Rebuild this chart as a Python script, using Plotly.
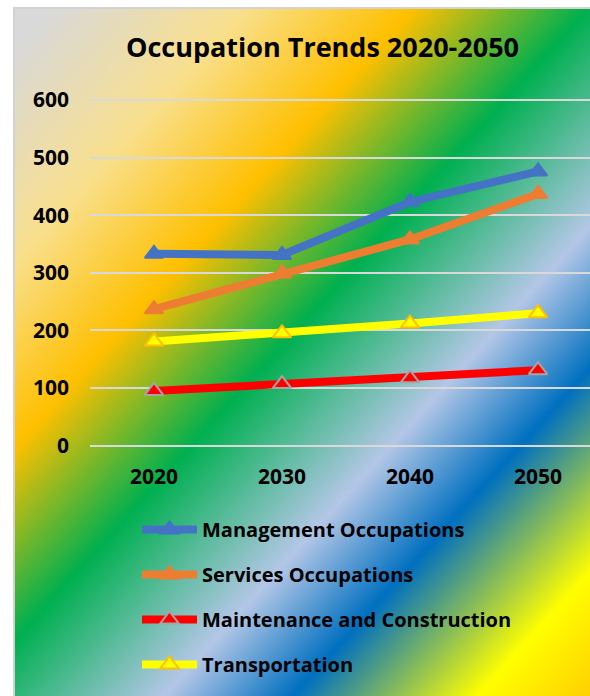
import base64
import struct
import zlib

import numpy as np
import plotly.graph_objects as go

# ---- data -------------------------------------------------------------
years = ["2020", "2030", "2040", "2050"]
management = [333, 331, 423, 476]
services = [237, 299, 358, 437]
maintenance = [95, 107, 117, 131]
transportation = [181, 195, 212, 230]

series_names = [
    "Management Occupations",
    "Services Occupations",
    "Maintenance and Construction",
    "Transportation",
]
y_ticks = [0, 100, 200, 300, 400, 500, 600]

# ---- page geometry (pixels) -------------------------------------------
W, H = 590, 696
PL, PR, PT, PB = 90, 590, 88, 457          # plot area edges
FX, FY = 13, 7                             # top-left corner of the chart frame


def to_paper_x(px):
    return (px - PL) / (PR - PL)


def to_paper_y(py):
    return (PB - py) / (PB - PT)


# ---- multicolour diagonal gradient fill for the chart frame ------------
def gradient_png(w, h, x0, y0):
    stops_t = np.array([0, 60, 250, 421, 595, 795, 924, 1108, 1240], float)
    stops_c = np.array([
        (217, 217, 217),
        (217, 217, 217),
        (249, 224, 142),
        (255, 192, 0),
        (0, 176, 80),
        (180, 199, 231),
        (0, 112, 192),
        (255, 255, 0),
        (255, 200, 0),
    ], float)
    xs = np.arange(w) + x0
    ys = np.arange(h) + y0
    t = xs[None, :] + 0.908 * ys[:, None]
    img = np.zeros((h, w, 3), float)
    for k in range(3):
        img[..., k] = np.interp(t, stops_t, stops_c[:, k])
    img = img.astype(np.uint8)
    # thin light-grey frame border
    img[0:2, :, :] = 210
    img[:, 0:2, :] = 210

    raw = b"".join(b"\x00" + img[r].tobytes() for r in range(h))

    def chunk(tag, data):
        c = struct.pack(">I", len(data)) + tag + data
        return c + struct.pack(">I", zlib.crc32(tag + data) & 0xFFFFFFFF)

    png = b"\x89PNG\r\n\x1a\n"
    png += chunk(b"IHDR", struct.pack(">IIBBBBB", w, h, 8, 2, 0, 0, 0))
    png += chunk(b"IDAT", zlib.compress(raw, 9))
    png += chunk(b"IEND", b"")
    return "data:image/png;base64," + base64.b64encode(png).decode()


bg_w, bg_h = W - FX, H - FY
bg_src = gradient_png(bg_w, bg_h, FX, FY)

# ---- traces -------------------------------------------------------------
FONT = "Open Sans"
styles = [
    dict(color="#4472C4", mfill="#4472C4", mline="#4472C4"),
    dict(color="#ED7D31", mfill="#ED7D31", mline="#ED7D31"),
    dict(color="#FF0000", mfill="#FF0000", mline="#A5A5A5"),
    dict(color="#FFFF00", mfill="#FFFF00", mline="#FFC000"),
]
values = [management, services, maintenance, transportation]

fig = go.Figure()
for name, vals, st in zip(series_names, values, styles):
    fig.add_trace(go.Scatter(
        x=years,
        y=vals,
        name=name,
        legendgroup=name,
        mode="lines+markers",
        line=dict(color=st["color"], width=8),
        marker=dict(symbol="triangle-up", size=16, color=st["mfill"],
                    line=dict(color=st["mline"], width=2)),
        cliponaxis=False,
    ))

# x positions: 128 px per category, first category centred at x=154
cat_px = 128.0
x_lo = (PL - 154) / cat_px
x_hi = (PR - 154) / cat_px

# y: 0 at 445.7 px, 600 at 100 px
u_per_px = 600 / (445.7 - 100)
y_lo = -(PB - 445.7) * u_per_px
y_hi = 600 + (100 - PT) * u_per_px

fig.update_layout(
    width=W,
    height=H,
    margin=dict(l=PL, r=W - PR, t=PT, b=H - PB, pad=0),
    paper_bgcolor="white",
    plot_bgcolor="rgba(0,0,0,0)",
    font=dict(family=FONT, color="black"),
    title=dict(
        text="Occupation Trends 2020-2050",
        font=dict(family=FONT, size=27, color="black", weight="bold"),
        x=322.5 / W, xref="container", xanchor="center",
        y=1 - 48 / H, yref="container", yanchor="middle",
    ),
    xaxis=dict(
        type="category",
        range=[x_lo, x_hi],
        showgrid=False, zeroline=False, showline=False, ticks="",
        tickfont=dict(family=FONT, size=21, color="black", weight="bold"),
        ticklabelstandoff=5,
    ),
    yaxis=dict(
        range=[y_lo, y_hi],
        tickvals=y_ticks,
        showgrid=True, gridcolor="#D9D9D9", gridwidth=2,
        zeroline=True, zerolinecolor="#D9D9D9", zerolinewidth=2,
        showline=False, ticks="",
        tickfont=dict(family=FONT, size=21, color="black", weight="bold"),
        ticklabelstandoff=20,
    ),
    showlegend=True,
    legend=dict(
        x=to_paper_x(137), xanchor="left",
        y=to_paper_y(510), yanchor="top",
        bgcolor="rgba(0,0,0,0)",
        font=dict(family=FONT, size=20, color="black", weight="bold"),
        itemwidth=55,
        tracegroupgap=16,
        traceorder="grouped",
    ),
    images=[dict(
        source=bg_src,
        xref="paper", yref="paper",
        x=to_paper_x(FX), y=to_paper_y(FY),
        sizex=bg_w / (PR - PL), sizey=bg_h / (PB - PT),
        xanchor="left", yanchor="top",
        sizing="stretch", layer="below",
    )],
)

fig.write_html("out.html")
